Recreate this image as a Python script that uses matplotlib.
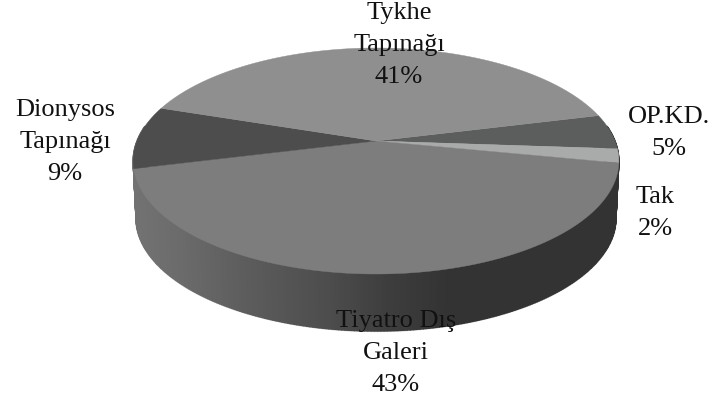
import numpy as np
import matplotlib
matplotlib.use("Agg")
import matplotlib.pyplot as plt

names = ["OP.KD.", "Tak", "Tiyatro Dış\nGaleri", "Dionysos\nTapınağı", "Tykhe\nTapınağı"]
values = [5, 2, 43, 9, 41]
colors = ["#5c5e5d", "#a9abaa", "#7d7d7d", "#4d4d4d", "#8f8f8f"]
label_xy = [(669, 133), (655, 213), (396, 353), (65, 142), (399, 45)]

CX, AY, K, A, C = 376.0, 141.0, 239.0, -84.5, 0.177
START = 14.0
DEPTH = 57.0


def project(t):
    u, v = np.cos(t), np.sin(t)
    w = 1 + C * v
    return CX + K * u / w, (AY + A * v) / w


fig = plt.figure(figsize=(7.09, 4.01), dpi=100, facecolor="white")
ax = fig.add_axes([0, 0, 1, 1])
ax.set_xlim(0, 709)
ax.set_ylim(401, 0)
ax.axis("off")

# side wall, shaded across its width
wall_x = [133, 180, 250, 330, 390, 450, 620]
wall_g = [0.45, 0.42, 0.36, 0.30, 0.24, 0.20, 0.20]
ts = np.radians(np.linspace(172, 368, 300))
for t0, t1 in zip(ts[:-1], ts[1:]):
    x0, y0 = project(t0)
    x1, y1 = project(t1)
    bx0 = CX + (x0 - CX) * 0.988
    bx1 = CX + (x1 - CX) * 0.988
    g = np.interp((x0 + x1) / 2, wall_x, wall_g)
    ax.fill([x0, x1, bx1, bx0], [y0, y1, y1 + DEPTH, y0 + DEPTH],
            facecolor=(g, g, g), edgecolor=(g, g, g), lw=1.0, zorder=1)
bt = np.radians(np.linspace(172, 368, 300))
bx, by = project(bt)
ax.plot(CX + (bx - CX) * 0.988, by + DEPTH, color="#888888", alpha=0.45, lw=1.6, zorder=0.5)

# top surface
fr = np.cumsum([0] + values) / sum(values) * 360.0
for i, col in enumerate(colors):
    ang = np.radians(START - np.linspace(fr[i], fr[i + 1], 120))
    x, y = project(ang)
    ax.fill(np.r_[CX, x], np.r_[AY, y], facecolor=col, edgecolor=col, lw=0.3, zorder=2)

for name, v, (lx, ly) in zip(names, values, label_xy):
    ax.text(lx, ly, f"{name}\n{v}%", ha="center", va="center", color="#111111",
            family="Liberation Serif", fontsize=19, linespacing=1.6, zorder=3)

fig.savefig("out.png", dpi=100, facecolor="white")
